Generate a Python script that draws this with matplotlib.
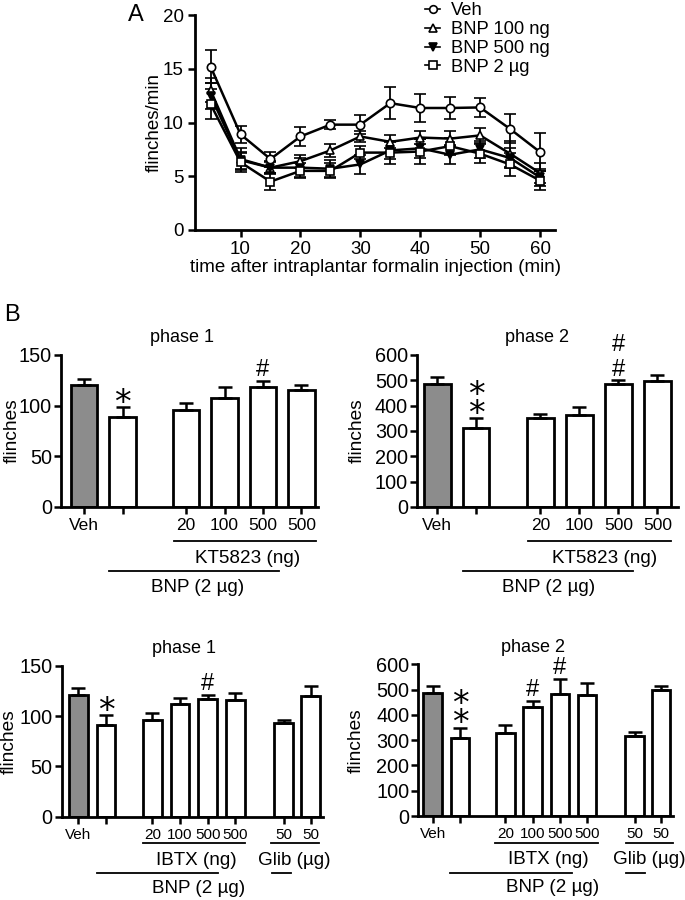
import numpy as np
import matplotlib
matplotlib.use('Agg')
import matplotlib.pyplot as plt

plt.rcParams['font.family'] = ['Liberation Sans', 'DejaVu Sans']

# panel A: time course (flinches/min)
time = [5, 10, 15, 20, 25, 30, 35, 40, 45, 50, 55, 60]
veh = [15.2, 8.9, 6.6, 8.7, 9.8, 9.8, 11.8, 11.35, 11.35, 11.4, 9.4, 7.25]
veh_err = [1.5, 0.8, 0.7, 0.85, 0.4, 0.9, 1.5, 1.3, 1.0, 0.85, 1.35, 1.75]
bnp100 = [13.0, 6.6, 5.8, 6.4, 7.4, 8.7, 8.2, 8.6, 8.5, 8.8, 7.1, 5.3]
bnp100_err = [1.1, 1.0, 0.5, 0.6, 0.6, 0.5, 0.6, 0.6, 0.7, 0.7, 1.2, 0.9]
bnp500 = [12.5, 6.5, 5.8, 5.8, 5.7, 6.1, 7.4, 7.6, 7.0, 7.5, 6.7, 4.9]
bnp500_err = [1.2, 0.8, 0.6, 0.9, 0.8, 0.9, 0.8, 0.9, 0.9, 0.8, 0.9, 0.8]
bnp2 = [11.7, 6.3, 4.5, 5.5, 5.5, 7.2, 7.2, 7.3, 7.8, 7.1, 6.1, 4.6]
bnp2_err = [1.4, 0.9, 0.8, 0.7, 0.7, 0.6, 1.1, 1.2, 0.8, 0.9, 1.1, 0.9]

# panel B: KT5823 experiment
kt_labels = ['Veh', '', '20', '100', '500', '500']
kt_p1 = [120, 89, 96, 108, 118.5, 115]
kt_p1_err = [6.5, 10, 6.5, 10, 6, 5]
kt_p2 = [484, 311, 353, 365, 484, 497]
kt_p2_err = [30, 40, 16, 31, 16, 24]
kt_p1_sig = {1: '*', 4: '#'}
kt_p2_sig = {1: '*\n*', 4: '#\n#'}

# panel B: IBTX / glibenclamide experiment
ib_labels = ['Veh', '', '20', '100', '500', '500', '50', '50']
ib_p1 = [121, 91, 96, 112, 117, 116, 93.5, 119.5]
ib_p1_err = [6.5, 10, 7, 5.5, 4, 6.5, 2.5, 10.5]
ib_p2 = [485, 310, 328, 431, 484, 479, 318, 497]
ib_p2_err = [29, 40, 32, 25, 59, 49, 16, 17]
ib_p1_sig = {1: '*', 4: '#'}
ib_p2_sig = {1: '*\n*', 3: '#', 4: '#'}

# layout
W, H = 685, 900
kt_pos = [0, 1, 2.65, 3.65, 4.65, 5.65]
ib_pos = [0, 1, 2.67, 3.67, 4.67, 5.67, 7.42, 8.38]


def rect(l, r, t, b):
    return [l / W, 1 - b / H, (r - l) / W, (b - t) / H]


fig = plt.figure(figsize=(6.85, 9.0), dpi=100)

# ---------- panel A ----------
ax = fig.add_axes(rect(195, 555, 15, 230))
series = [(veh, veh_err, 'o', 'white', 'Veh'),
          (bnp100, bnp100_err, '^', 'white', 'BNP 100 ng'),
          (bnp500, bnp500_err, 'v', 'black', 'BNP 500 ng'),
          (bnp2, bnp2_err, 's', 'white', 'BNP 2 µg')]
handles = []
for y, e, m, fc, lab in series:
    h = ax.errorbar(time, y, yerr=e, color='black', lw=1.8, marker=m, ms=6,
                    mfc=fc, mec='black', mew=1.2, capsize=4, elinewidth=1.3,
                    capthick=1.3, label=lab)
    handles.append(h)
ax.set_xlim(2.4, 62.5)
ax.set_ylim(0, 20)
ax.set_xticks([10, 20, 30, 40, 50, 60])
ax.set_yticks([0, 5, 10, 15, 20])
ax.set_ylabel('flinches/min', fontsize=13.5)
ax.yaxis.set_label_coords((163 - 195) / 360, 0.5)
ax.set_xlabel('time after intraplantar formalin injection (min)', fontsize=13.5, labelpad=1)
for s in ['top', 'right']:
    ax.spines[s].set_visible(False)
for s in ['left', 'bottom']:
    ax.spines[s].set_linewidth(2)
ax.tick_params(width=1.8, length=5, labelsize=13.5, pad=3)
leg = fig.legend(handles=[h[0] for h in handles], labels=[s[4] for s in series],
                 loc='upper left', bbox_to_anchor=(418 / W, 1 + 5 / H), frameon=False,
                 fontsize=13.2, handlelength=0.8, handletextpad=0.6, labelspacing=0.1,
                 borderaxespad=0)
for lh in leg.legend_handles:
    lh.set_markersize(5.5)
    lh.set_linewidth(1.2)
fig.text(136 / W, 1 - 15 / H, 'A', fontsize=17, ha='center', va='center')
fig.text(12 / W, 1 - 315 / H, 'B', fontsize=17, ha='center', va='center')


def bar_panel(r, pos, vals, errs, labels, ymax, yticks, title, sig,
              xlim, ticksize, title_x, label_x):
    ax = fig.add_axes(r)
    colors = ['#8c8c8c'] + ['white'] * (len(vals) - 1)
    ax.bar(pos, vals, width=0.68, color=colors, edgecolor='black', linewidth=2,
           yerr=[np.zeros(len(vals)), errs],
           error_kw=dict(lw=1.8, capsize=5, capthick=1.8, ecolor='black'),
           zorder=2)
    ax.set_xlim(*xlim)
    ax.set_ylim(0, ymax)
    ax.set_yticks(yticks)
    ax.set_xticks(pos)
    ax.set_xticklabels(labels, fontsize=ticksize)
    ax.tick_params(axis='y', labelsize=14.3, width=1.8, length=5, pad=1.5)
    ax.tick_params(axis='x', width=1.8, length=5, pad=3)
    for s in ['top', 'right']:
        ax.spines[s].set_visible(False)
    for s in ['left', 'bottom']:
        ax.spines[s].set_linewidth(2)
    ax.set_ylabel('flinches', fontsize=13.8)
    ax.yaxis.set_label_coords(label_x, 0.5)
    ax.set_title(title, fontsize=13, pad=9, x=title_x)
    # significance marks: glyph centre of the lowest mark sits a fixed fraction above the error bar
    for i, mk in sig.items():
        top = vals[i] + errs[i]
        if mk.startswith('*'):
            fs, yc, fam, ls, drop = 24, top + ymax * 0.072, 'DejaVu Sans', 0.46, -0.715
        else:
            fs, yc, fam, ls, drop = 17, top + ymax * 0.085, 'Liberation Sans', 1.15, -0.56
        ax.annotate(mk, xy=(pos[i], yc), xytext=(0, drop * fs), textcoords='offset points',
                    ha='center', va='bottom', fontsize=fs, family=fam, linespacing=ls,
                    annotation_clip=False)
    return ax


def bracket(ax, x0, x1, yfrac, text=None, tfrac=None, tx=None, size=13.6):
    tr = ax.get_xaxis_transform()
    ax.plot([x0, x1], [yfrac, yfrac], color='black', lw=1.3, transform=tr, clip_on=False)
    if text is not None:
        ax.text(tx, tfrac, text, transform=tr, ha='center', va='center', fontsize=size)


# ---------- top-left ----------
ax1 = bar_panel(rect(61, 318, 355, 507), kt_pos, kt_p1, kt_p1_err, kt_labels,
                150, [0, 50, 100, 150], 'phase 1', kt_p1_sig, (-0.6, 6.08), 12.5,
                0.47, -0.156)
bracket(ax1, 2.34, 6.04, -0.222, 'KT5823 (ng)', -0.336, 4.26)
bracket(ax1, 0.65, 5.06, -0.42, 'BNP (2 µg)', -0.53, 2.96)

# ---------- top-right ----------
ax2 = bar_panel(rect(417, 678, 355, 507), kt_pos, kt_p2, kt_p2_err, kt_labels,
                600, [0, 100, 200, 300, 400, 500, 600], 'phase 2', kt_p2_sig,
                (-0.52, 6.18), 12.5, 0.46, -0.195)
bracket(ax2, 2.33, 6.0, -0.222, 'KT5823 (ng)', -0.336, 4.3)
bracket(ax2, 0.67, 5.03, -0.42, 'BNP (2 µg)', -0.53, 2.85)

# ---------- bottom-left ----------
ax3 = bar_panel(rect(61.7, 322.7, 665.7, 816.7), ib_pos, ib_p1, ib_p1_err, ib_labels,
                150, [0, 50, 100, 150], 'phase 1', ib_p1_sig, (-0.6, 8.82), 11,
                0.47, -0.168)
bracket(ax3, 2.32, 6.02, -0.176, 'IBTX (ng)', -0.287, 4.27)
bracket(ax3, 6.95, 8.7, -0.176, 'Glib (µg)', -0.287, 7.78)
bracket(ax3, 6.98, 7.68, -0.373)
bracket(ax3, 0.69, 5.03, -0.373, 'BNP (2 µg)', -0.473, 4.34)

# ---------- bottom-right ----------
ax4 = bar_panel(rect(418.3, 673, 664.3, 816), ib_pos, ib_p2, ib_p2_err, ib_labels,
                600, [0, 100, 200, 300, 400, 500, 600], 'phase 2', ib_p2_sig,
                (-0.53, 8.83), 11, 0.45, -0.21)
bracket(ax4, 2.28, 6.08, -0.176, 'IBTX (ng)', -0.287, 4.24)
bracket(ax4, 7.1, 8.83, -0.176, 'Glib (µg)', -0.287, 7.95)
bracket(ax4, 7.1, 7.8, -0.373)
bracket(ax4, 0.65, 5.1, -0.373, 'BNP (2 µg)', -0.473, 4.42)

fig.savefig('out.png', dpi=100)
